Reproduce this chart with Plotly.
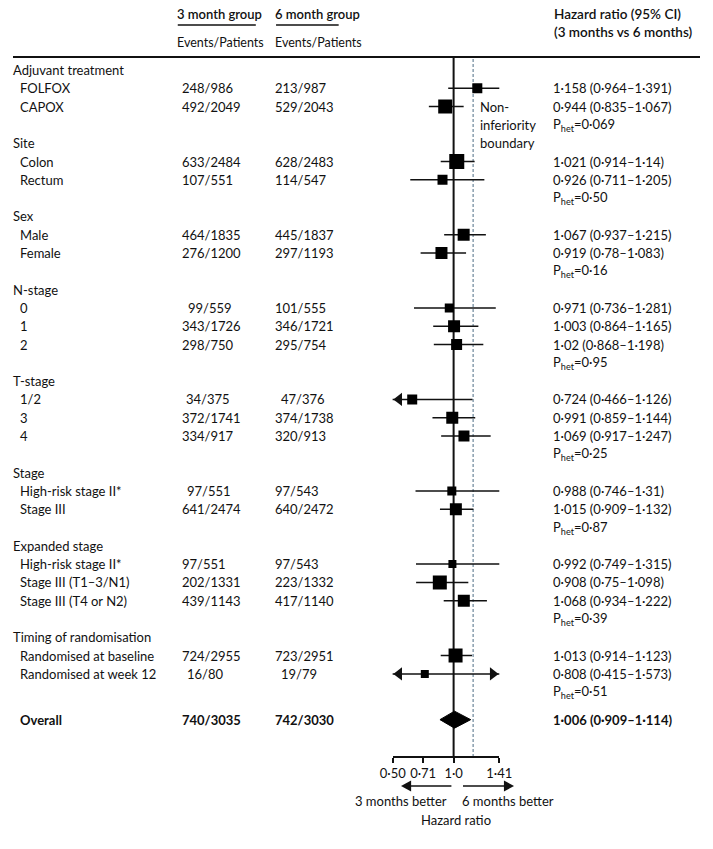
import plotly.graph_objects as go

# ---------------- data ----------------
group_names = ["Adjuvant treatment", "Site", "Sex", "N-stage", "T-stage", "Stage",
               "Expanded stage", "Timing of randomisation"]
group_sizes = [2, 2, 2, 3, 3, 2, 3, 2]
p_het = ["0·069", "0·50", "0·16", "0·95", "0·25", "0·87", "0·39", "0·51"]

sub_labels = ["FOLFOX", "CAPOX", "Colon", "Rectum", "Male", "Female", "0", "1", "2",
              "1/2", "3", "4", "High-risk stage II*", "Stage III", "High-risk stage II*",
              "Stage III (T1–3/N1)", "Stage III (T4 or N2)", "Randomised at baseline",
              "Randomised at week 12"]
events_3m = ["248/986", "492/2049", "633/2484", "107/551", "464/1835", "276/1200", "99/559",
             "343/1726", "298/750", "34/375", "372/1741", "334/917", "97/551", "641/2474",
             "97/551", "202/1331", "439/1143", "724/2955", "16/80"]
events_6m = ["213/987", "529/2043", "628/2483", "114/547", "445/1837", "297/1193", "101/555",
             "346/1721", "295/754", "47/376", "374/1738", "320/913", "97/543", "640/2472",
             "97/543", "223/1332", "417/1140", "723/2951", "19/79"]
hr = [1.158, 0.944, 1.021, 0.926, 1.067, 0.919, 0.971, 1.003, 1.02, 0.724, 0.991, 1.069,
      0.988, 1.015, 0.992, 0.908, 1.068, 1.013, 0.808]
ci_low = [0.964, 0.835, 0.914, 0.711, 0.937, 0.78, 0.736, 0.864, 0.868, 0.466, 0.859, 0.917,
          0.746, 0.909, 0.749, 0.75, 0.934, 0.914, 0.415]
ci_high = [1.391, 1.067, 1.14, 1.205, 1.215, 1.083, 1.281, 1.165, 1.198, 1.126, 1.144, 1.247,
           1.31, 1.132, 1.315, 1.098, 1.222, 1.123, 1.573]

overall_label = "Overall"
overall_3m = "740/3035"
overall_6m = "742/3030"
overall_hr = 1.006
overall_low = 0.909
overall_high = 1.114

noninferiority_margin = 1.13
tick_labels = ["0·50", "0·71", "1·0", "1·41"]
display_min, display_max = 0.50, 1.41   # CIs beyond these limits get an arrow

# ---------------- style / layout ----------------
W, H = 713, 849
FONT = "Lato, 'Open Sans', sans-serif"
FS = 13
INK = "#111111"
ROW0_PX = 70.0
ROW_PX = 18.3
AXIS_PX = 757
RULE_PX = 57
X_LEFT_PX, X_RIGHT_PX = 394.0, 504.7
X_MIN, X_MAX = 0.594, 1.304                      # data range across the plot strip
PX_PER_UNIT = (X_RIGHT_PX - X_LEFT_PX) / (X_MAX - X_MIN)
tick_positions = [0.594, 0.797, 1.0, 1.304]
square_sizes = [10, 14, 15, 10, 12, 12, 9, 12, 11, 10, 12, 11, 9, 12, 8, 14, 12, 14, 8]
shift_3m = {6: 6, 9: 4, 12: 5, 18: 5}
shift_6m = {9: 6, 18: 6}
PAD = -3            # compensate annotation inner padding
ARROW = 11.5        # arrowhead marker size
TIP = ARROW / 2 * 2 / 3 ** 0.5   # distance from triangle centre to its tip (px)
BETTER_PX = 786


def row_of_px(px):
    return (px - ROW0_PX) / ROW_PX


def xp(px):
    return px / W


def yp(px):
    return 1 - px / H


def fmt(v):
    return f"{v}".replace(".", "·")


def head_path(tip_px, direction, y_px, length=10.5, half=5.5):
    """Filled triangular arrowhead in paper coordinates."""
    base = tip_px - direction * length
    return (f"M{xp(tip_px)},{yp(y_px)} L{xp(base)},{yp(y_px - half)} "
            f"L{xp(base)},{yp(y_px + half)} Z")


# row layout
rows_group, rows_sub, rows_p = [], [], []
r = 0
for n in group_sizes:
    rows_group.append(r)
    rows_sub.extend(range(r + 1, r + 1 + n))
    rows_p.append(r + n + 1)
    r += n + 2
row_overall = rows_p[-1] + 1.5

annotations = []


def txt(x_px, y, text, anchor="left", bold=False, size=FS, xshift=0, weight=400):
    annotations.append(dict(
        x=xp(x_px), y=y, xref="paper", yref="y", text=f"<b>{text}</b>" if bold else text,
        showarrow=False, xanchor=anchor, yanchor="middle",
        xshift=xshift + (PAD if anchor == "left" else 0),
        font=dict(family=FONT, size=size, color=INK, weight=weight)))


# header
txt(171, row_of_px(14), "3 month group", size=13, weight=600)
txt(273, row_of_px(14), "6 month group", size=13, weight=600)
txt(171, row_of_px(42), "Events/Patients", size=12.5)
txt(273, row_of_px(42), "Events/Patients", size=12.5)
txt(562, row_of_px(14), "Hazard ratio (95% CI)", size=13.5, weight=600)
txt(562, row_of_px(32), "(3 months vs 6 months)", size=13.5, weight=600)

for g, rg, rp, p in zip(group_names, rows_group, rows_p, p_het):
    txt(1, rg, g)
    txt(561, rp, f"P<sub>het</sub>={p}")

for i, (lab, e3, e6, h, lo, hi, rr) in enumerate(zip(sub_labels, events_3m, events_6m, hr,
                                                       ci_low, ci_high, rows_sub)):
    txt(8, rr, lab)
    txt(176, rr, e3, xshift=shift_3m.get(i, 0))
    txt(273, rr, e6, xshift=shift_6m.get(i, 0))
    txt(561, rr, f"{fmt(h)} ({fmt(lo)}–{fmt(hi)})")

txt(8, row_overall, overall_label, bold=True)
txt(176, row_overall, overall_3m, bold=True)
txt(273, row_overall, overall_6m, bold=True)
txt(561, row_overall, f"{fmt(overall_hr)} ({fmt(overall_low)}–{fmt(overall_high)})", bold=True)

# non-inferiority label
for k, word in enumerate(["Non-", "inferiority", "boundary"]):
    txt(486, rows_sub[1] + k, word)

# bottom captions
txt(452, row_of_px(801), "3 months better", anchor="right")
txt(467, row_of_px(801), "6 months better")
txt(460, row_of_px(820), "Hazard ratio", anchor="center")

fig = go.Figure()

# CI lines
ci_x, ci_y = [], []
for lo, hi, rr in zip(ci_low, ci_high, rows_sub):
    ci_x += [lo, hi, None]
    ci_y += [rr, rr, None]
fig.add_trace(go.Scatter(x=ci_x, y=ci_y, mode="lines", line=dict(color=INK, width=1.5),
                         hoverinfo="skip"))

# squares
fig.add_trace(go.Scatter(x=hr, y=rows_sub, mode="markers",
                         marker=dict(symbol="square", size=square_sizes, color="#000000",
                                     opacity=1, line=dict(width=0)),
                         hoverinfo="skip"))

# overall diamond
dh = 8.5 / ROW_PX
fig.add_trace(go.Scatter(
    x=[overall_low, overall_hr, overall_high, overall_hr, overall_low],
    y=[row_overall, row_overall - dh, row_overall, row_overall + dh, row_overall],
    mode="lines", fill="toself", fillcolor="#000000", line=dict(color="#000000", width=1),
    hoverinfo="skip"))

# arrowheads for CIs running past the displayed range
arr_x, arr_y, arr_sym = [], [], []
tip_units = TIP / PX_PER_UNIT
for lo, hi, rr in zip(ci_low, ci_high, rows_sub):
    if lo < display_min:
        arr_x.append(X_MIN + tip_units); arr_y.append(rr); arr_sym.append("triangle-left")
    if hi > display_max:
        arr_x.append(X_MAX - tip_units); arr_y.append(rr); arr_sym.append("triangle-right")
fig.add_trace(go.Scatter(x=arr_x, y=arr_y, mode="markers", cliponaxis=False,
                         marker=dict(symbol=arr_sym, size=ARROW, color=INK, opacity=1,
                                     line=dict(width=0)),
                         hoverinfo="skip"))

shapes = [
    dict(type="line", xref="paper", yref="paper", x0=0, x1=1, y0=yp(RULE_PX), y1=yp(RULE_PX),
         line=dict(color=INK, width=2)),
    dict(type="line", xref="paper", yref="paper", x0=xp(171), x1=xp(252), y0=yp(25), y1=yp(25),
         line=dict(color=INK, width=1.3)),
    dict(type="line", xref="paper", yref="paper", x0=xp(273), x1=xp(338), y0=yp(25), y1=yp(25),
         line=dict(color=INK, width=1.3)),
    dict(type="line", xref="x", yref="paper", x0=1.0, x1=1.0, y0=yp(AXIS_PX), y1=yp(RULE_PX),
         line=dict(color=INK, width=2), layer="below"),
    dict(type="line", xref="x", yref="paper", x0=noninferiority_margin, x1=noninferiority_margin,
         y0=yp(AXIS_PX), y1=yp(RULE_PX), line=dict(color="#6a8598", width=1.2, dash="3px,2px"),
         layer="below"),
    # "3 months better" / "6 months better" arrows under the axis
    dict(type="line", xref="paper", yref="paper", x0=xp(410), x1=xp(455), y0=yp(BETTER_PX),
         y1=yp(BETTER_PX), line=dict(color=INK, width=1.5)),
    dict(type="path", xref="paper", yref="paper", path=head_path(402.7, -1, BETTER_PX),
         fillcolor=INK, line=dict(width=0)),
    dict(type="line", xref="paper", yref="paper", x0=xp(467), x1=xp(512), y0=yp(BETTER_PX),
         y1=yp(BETTER_PX), line=dict(color=INK, width=1.5)),
    dict(type="path", xref="paper", yref="paper", path=head_path(520, 1, BETTER_PX),
         fillcolor=INK, line=dict(width=0)),
]

fig.update_layout(
    autosize=True, margin=dict(l=0, r=0, t=0, b=0),
    paper_bgcolor="white", plot_bgcolor="rgba(0,0,0,0)",
    showlegend=False, hovermode=False,
    annotations=annotations, shapes=shapes,
    xaxis=dict(domain=[xp(X_LEFT_PX), xp(X_RIGHT_PX)], range=[X_MIN - 0.0005, X_MAX + 0.0005],
               anchor="free", position=yp(AXIS_PX), showline=True, linecolor=INK, linewidth=1.6,
               ticks="outside", ticklen=5, tickwidth=1.5, tickcolor=INK,
               tickvals=tick_positions, ticktext=tick_labels,
               tickfont=dict(family=FONT, size=FS, color=INK),
               showgrid=False, zeroline=False, fixedrange=True),
    yaxis=dict(domain=[0, 1], range=[row_of_px(H), row_of_px(0)], visible=False,
               showgrid=False, zeroline=False, fixedrange=True),
)

# pin the plot's div to the page corner so the body's default margin has no effect
fig.write_html("out.html", config={"displayModeBar": False},
               default_width=f"{W}px;position:absolute;left:0;top:0",
               default_height=f"{H}px")
